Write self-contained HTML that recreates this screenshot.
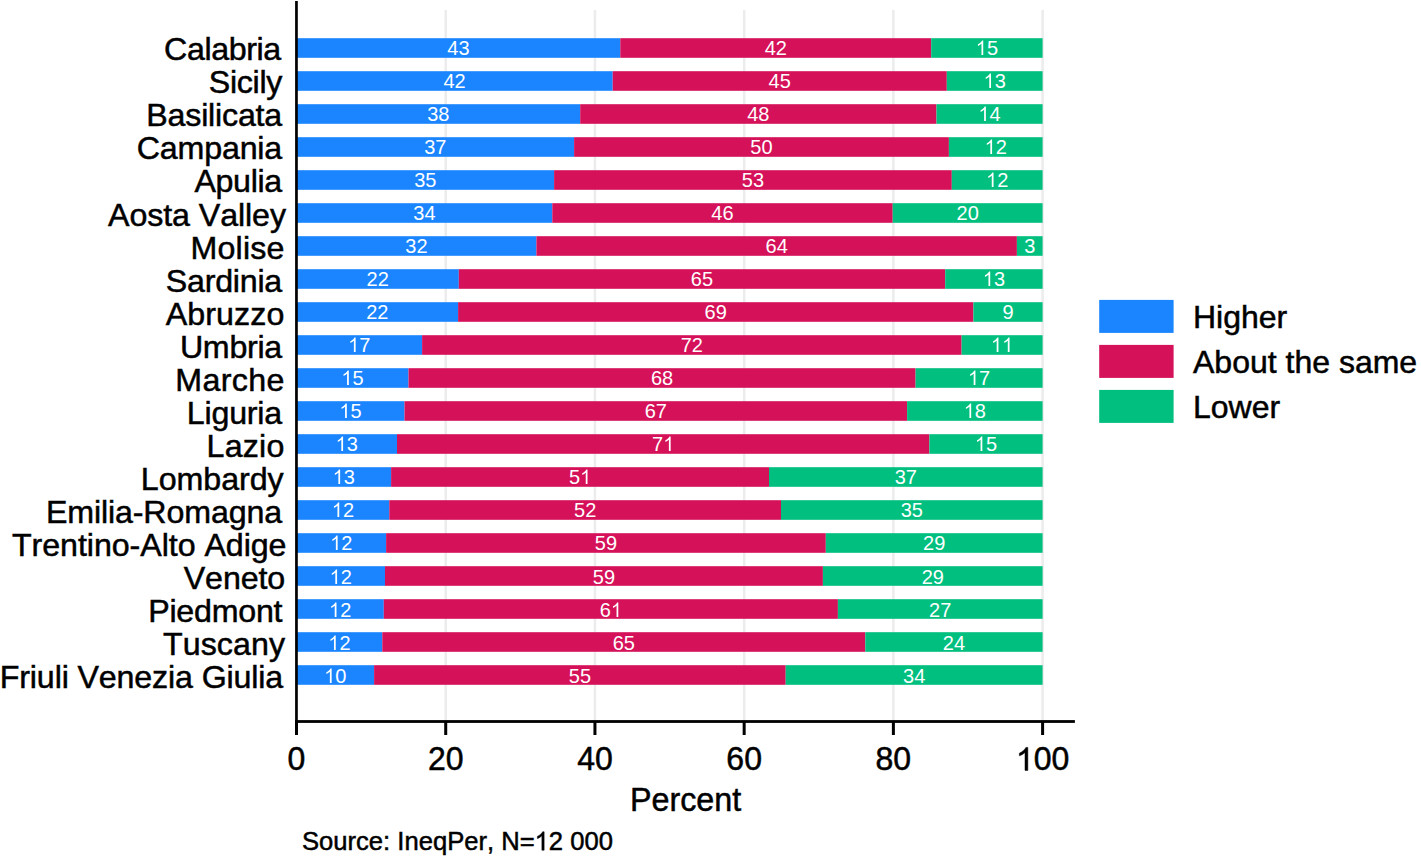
<!DOCTYPE html>
<html><head><meta charset="utf-8"><style>
html,body{margin:0;padding:0;background:#fff;}
body{width:1421px;height:858px;overflow:hidden;}
svg{display:block;}
text{font-family:"Liberation Sans",sans-serif;font-kerning:none;}
.k{fill:#000;stroke:#000;stroke-width:0.5px;}
</style></head><body>
<svg width="1421" height="858" viewBox="0 0 1421 858">
<rect x="0" y="0" width="1421" height="858" fill="#fff"/>

<rect x="444.47" y="10" width="2.5" height="711" fill="#ececec"/>
<rect x="593.69" y="10" width="2.5" height="711" fill="#ececec"/>
<rect x="742.91" y="10" width="2.5" height="711" fill="#ececec"/>
<rect x="892.13" y="10" width="2.5" height="711" fill="#ececec"/>
<rect x="1041.35" y="10" width="2.5" height="711" fill="#ececec"/>
<rect x="296.50" y="38.20" width="323.80" height="19.6" fill="#1a85ff"/>
<rect x="620.30" y="38.20" width="310.90" height="19.6" fill="#d51159"/>
<rect x="931.20" y="38.20" width="111.40" height="19.6" fill="#00bf7f"/>
<text x="447.28" y="55.00" font-size="20" fill="#fff" transform="matrix(1 0 0 1.02 0 -1.100)">4</text>
<text x="458.40" y="55.00" font-size="20" fill="#fff" transform="matrix(1 0 0 1.02 0 -1.100)">3</text>
<text x="764.63" y="55.00" font-size="20" fill="#fff" transform="matrix(1 0 0 1.02 0 -1.100)">4</text>
<text x="775.75" y="55.00" font-size="20" fill="#fff" transform="matrix(1 0 0 1.02 0 -1.100)">2</text>
<path d="M983.23 55.00L981.47 55.00L981.47 43.80Q980.84 44.40 979.83 45.00Q978.82 45.59 977.95 45.91L977.95 44.21Q979.44 43.52 980.53 42.53Q981.63 41.55 982.03 40.62L983.23 40.62Z" fill="#fff"/>
<text x="986.90" y="55.00" font-size="20" fill="#fff" transform="matrix(1 0 0 1.02 0 -1.100)">5</text>
<text x="281.28" y="60.30" font-size="32.2" class="k" text-anchor="end" textLength="117.27" lengthAdjust="spacing">Calabria</text>
<rect x="296.50" y="71.20" width="316.20" height="19.6" fill="#1a85ff"/>
<rect x="612.70" y="71.20" width="334.10" height="19.6" fill="#d51159"/>
<rect x="946.80" y="71.20" width="95.80" height="19.6" fill="#00bf7f"/>
<text x="443.48" y="88.00" font-size="20" fill="#fff" transform="matrix(1 0 0 1.02 0 -1.760)">4</text>
<text x="454.60" y="88.00" font-size="20" fill="#fff" transform="matrix(1 0 0 1.02 0 -1.760)">2</text>
<text x="768.63" y="88.00" font-size="20" fill="#fff" transform="matrix(1 0 0 1.02 0 -1.760)">4</text>
<text x="779.75" y="88.00" font-size="20" fill="#fff" transform="matrix(1 0 0 1.02 0 -1.760)">5</text>
<path d="M991.03 88.00L989.27 88.00L989.27 76.80Q988.64 77.40 987.63 78.00Q986.62 78.59 985.75 78.91L985.75 77.21Q987.24 76.52 988.33 75.53Q989.43 74.55 989.83 73.62L991.03 73.62Z" fill="#fff"/>
<text x="994.70" y="88.00" font-size="20" fill="#fff" transform="matrix(1 0 0 1.02 0 -1.760)">3</text>
<text x="282.41" y="93.34" font-size="32.2" class="k" text-anchor="end" textLength="73.68" lengthAdjust="spacing">Sicily</text>
<rect x="296.50" y="104.20" width="283.70" height="19.6" fill="#1a85ff"/>
<rect x="580.20" y="104.20" width="356.30" height="19.6" fill="#d51159"/>
<rect x="936.50" y="104.20" width="106.10" height="19.6" fill="#00bf7f"/>
<text x="427.23" y="121.00" font-size="20" fill="#fff" transform="matrix(1 0 0 1.02 0 -2.420)">3</text>
<text x="438.35" y="121.00" font-size="20" fill="#fff" transform="matrix(1 0 0 1.02 0 -2.420)">8</text>
<text x="747.23" y="121.00" font-size="20" fill="#fff" transform="matrix(1 0 0 1.02 0 -2.420)">4</text>
<text x="758.35" y="121.00" font-size="20" fill="#fff" transform="matrix(1 0 0 1.02 0 -2.420)">8</text>
<path d="M985.88 121.00L984.12 121.00L984.12 109.80Q983.49 110.40 982.48 111.00Q981.47 111.59 980.60 111.91L980.60 110.21Q982.09 109.52 983.18 108.53Q984.28 107.55 984.68 106.62L985.88 106.62Z" fill="#fff"/>
<text x="989.55" y="121.00" font-size="20" fill="#fff" transform="matrix(1 0 0 1.02 0 -2.420)">4</text>
<text x="282.26" y="126.39" font-size="32.2" class="k" text-anchor="end" textLength="135.98" lengthAdjust="spacing">Basilicata</text>
<rect x="296.50" y="137.20" width="277.60" height="19.6" fill="#1a85ff"/>
<rect x="574.10" y="137.20" width="374.80" height="19.6" fill="#d51159"/>
<rect x="948.90" y="137.20" width="93.70" height="19.6" fill="#00bf7f"/>
<text x="424.18" y="154.00" font-size="20" fill="#fff" transform="matrix(1 0 0 1.02 0 -3.080)">3</text>
<text x="435.30" y="154.00" font-size="20" fill="#fff" transform="matrix(1 0 0 1.02 0 -3.080)">7</text>
<text x="750.38" y="154.00" font-size="20" fill="#fff" transform="matrix(1 0 0 1.02 0 -3.080)">5</text>
<text x="761.50" y="154.00" font-size="20" fill="#fff" transform="matrix(1 0 0 1.02 0 -3.080)">0</text>
<path d="M992.08 154.00L990.32 154.00L990.32 142.80Q989.69 143.40 988.68 144.00Q987.67 144.59 986.80 144.91L986.80 143.21Q988.29 142.52 989.38 141.53Q990.48 140.55 990.88 139.62L992.08 139.62Z" fill="#fff"/>
<text x="995.75" y="154.00" font-size="20" fill="#fff" transform="matrix(1 0 0 1.02 0 -3.080)">2</text>
<text x="282.26" y="159.43" font-size="32.2" class="k" text-anchor="end" textLength="145.53" lengthAdjust="spacing">Campania</text>
<rect x="296.50" y="170.20" width="257.60" height="19.6" fill="#1a85ff"/>
<rect x="554.10" y="170.20" width="397.70" height="19.6" fill="#d51159"/>
<rect x="951.80" y="170.20" width="90.80" height="19.6" fill="#00bf7f"/>
<text x="414.18" y="187.00" font-size="20" fill="#fff" transform="matrix(1 0 0 1.02 0 -3.740)">3</text>
<text x="425.30" y="187.00" font-size="20" fill="#fff" transform="matrix(1 0 0 1.02 0 -3.740)">5</text>
<text x="741.83" y="187.00" font-size="20" fill="#fff" transform="matrix(1 0 0 1.02 0 -3.740)">5</text>
<text x="752.95" y="187.00" font-size="20" fill="#fff" transform="matrix(1 0 0 1.02 0 -3.740)">3</text>
<path d="M993.53 187.00L991.77 187.00L991.77 175.80Q991.14 176.40 990.13 177.00Q989.12 177.59 988.25 177.91L988.25 176.21Q989.74 175.52 990.83 174.53Q991.93 173.55 992.33 172.62L993.53 172.62Z" fill="#fff"/>
<text x="997.20" y="187.00" font-size="20" fill="#fff" transform="matrix(1 0 0 1.02 0 -3.740)">2</text>
<text x="282.26" y="192.48" font-size="32.2" class="k" text-anchor="end" textLength="87.88" lengthAdjust="spacing">Apulia</text>
<rect x="296.50" y="203.20" width="255.80" height="19.6" fill="#1a85ff"/>
<rect x="552.30" y="203.20" width="340.40" height="19.6" fill="#d51159"/>
<rect x="892.70" y="203.20" width="149.90" height="19.6" fill="#00bf7f"/>
<text x="413.28" y="220.00" font-size="20" fill="#fff" transform="matrix(1 0 0 1.02 0 -4.400)">3</text>
<text x="424.40" y="220.00" font-size="20" fill="#fff" transform="matrix(1 0 0 1.02 0 -4.400)">4</text>
<text x="711.38" y="220.00" font-size="20" fill="#fff" transform="matrix(1 0 0 1.02 0 -4.400)">4</text>
<text x="722.50" y="220.00" font-size="20" fill="#fff" transform="matrix(1 0 0 1.02 0 -4.400)">6</text>
<text x="956.53" y="220.00" font-size="20" fill="#fff" transform="matrix(1 0 0 1.02 0 -4.400)">2</text>
<text x="967.65" y="220.00" font-size="20" fill="#fff" transform="matrix(1 0 0 1.02 0 -4.400)">0</text>
<text x="286.01" y="225.52" font-size="32.2" class="k" text-anchor="end" textLength="177.94" lengthAdjust="spacing">Aosta Valley</text>
<rect x="296.50" y="236.20" width="239.90" height="19.6" fill="#1a85ff"/>
<rect x="536.40" y="236.20" width="480.50" height="19.6" fill="#d51159"/>
<rect x="1016.90" y="236.20" width="25.70" height="19.6" fill="#00bf7f"/>
<text x="405.33" y="253.00" font-size="20" fill="#fff" transform="matrix(1 0 0 1.02 0 -5.060)">3</text>
<text x="416.45" y="253.00" font-size="20" fill="#fff" transform="matrix(1 0 0 1.02 0 -5.060)">2</text>
<text x="765.53" y="253.00" font-size="20" fill="#fff" transform="matrix(1 0 0 1.02 0 -5.060)">6</text>
<text x="776.65" y="253.00" font-size="20" fill="#fff" transform="matrix(1 0 0 1.02 0 -5.060)">4</text>
<text x="1024.19" y="253.00" font-size="20" fill="#fff" transform="matrix(1 0 0 1.02 0 -5.060)">3</text>
<text x="284.41" y="258.56" font-size="32.2" class="k" text-anchor="end" textLength="93.85" lengthAdjust="spacing">Molise</text>
<rect x="296.50" y="269.20" width="162.30" height="19.6" fill="#1a85ff"/>
<rect x="458.80" y="269.20" width="486.40" height="19.6" fill="#d51159"/>
<rect x="945.20" y="269.20" width="97.40" height="19.6" fill="#00bf7f"/>
<text x="366.53" y="286.00" font-size="20" fill="#fff" transform="matrix(1 0 0 1.02 0 -5.720)">2</text>
<text x="377.65" y="286.00" font-size="20" fill="#fff" transform="matrix(1 0 0 1.02 0 -5.720)">2</text>
<text x="690.88" y="286.00" font-size="20" fill="#fff" transform="matrix(1 0 0 1.02 0 -5.720)">6</text>
<text x="702.00" y="286.00" font-size="20" fill="#fff" transform="matrix(1 0 0 1.02 0 -5.720)">5</text>
<path d="M990.23 286.00L988.47 286.00L988.47 274.80Q987.84 275.40 986.83 276.00Q985.82 276.59 984.95 276.91L984.95 275.21Q986.44 274.52 987.53 273.53Q988.63 272.55 989.03 271.62L990.23 271.62Z" fill="#fff"/>
<text x="993.90" y="286.00" font-size="20" fill="#fff" transform="matrix(1 0 0 1.02 0 -5.720)">3</text>
<text x="282.19" y="291.61" font-size="32.2" class="k" text-anchor="end" textLength="116.38" lengthAdjust="spacing">Sardinia</text>
<rect x="296.50" y="302.20" width="161.60" height="19.6" fill="#1a85ff"/>
<rect x="458.10" y="302.20" width="515.30" height="19.6" fill="#d51159"/>
<rect x="973.40" y="302.20" width="69.20" height="19.6" fill="#00bf7f"/>
<text x="366.18" y="319.00" font-size="20" fill="#fff" transform="matrix(1 0 0 1.02 0 -6.380)">2</text>
<text x="377.30" y="319.00" font-size="20" fill="#fff" transform="matrix(1 0 0 1.02 0 -6.380)">2</text>
<text x="704.63" y="319.00" font-size="20" fill="#fff" transform="matrix(1 0 0 1.02 0 -6.380)">6</text>
<text x="715.75" y="319.00" font-size="20" fill="#fff" transform="matrix(1 0 0 1.02 0 -6.380)">9</text>
<text x="1002.44" y="319.00" font-size="20" fill="#fff" transform="matrix(1 0 0 1.02 0 -6.380)">9</text>
<text x="284.34" y="324.65" font-size="32.2" class="k" text-anchor="end" textLength="118.54" lengthAdjust="spacing">Abruzzo</text>
<rect x="296.50" y="335.20" width="125.60" height="19.6" fill="#1a85ff"/>
<rect x="422.10" y="335.20" width="539.50" height="19.6" fill="#d51159"/>
<rect x="961.60" y="335.20" width="81.00" height="19.6" fill="#00bf7f"/>
<path d="M355.63 352.00L353.87 352.00L353.87 340.80Q353.24 341.40 352.23 342.00Q351.22 342.59 350.35 342.91L350.35 341.21Q351.84 340.52 352.93 339.53Q354.03 338.55 354.43 337.62L355.63 337.62Z" fill="#fff"/>
<text x="359.30" y="352.00" font-size="20" fill="#fff" transform="matrix(1 0 0 1.02 0 -7.040)">7</text>
<text x="680.73" y="352.00" font-size="20" fill="#fff" transform="matrix(1 0 0 1.02 0 -7.040)">7</text>
<text x="691.85" y="352.00" font-size="20" fill="#fff" transform="matrix(1 0 0 1.02 0 -7.040)">2</text>
<path d="M998.43 352.00L996.67 352.00L996.67 340.80Q996.04 341.40 995.03 342.00Q994.02 342.59 993.15 342.91L993.15 341.21Q994.64 340.52 995.73 339.53Q996.83 338.55 997.23 337.62L998.43 337.62Z" fill="#fff"/>
<path d="M1009.55 352.00L1007.79 352.00L1007.79 340.80Q1007.16 341.40 1006.15 342.00Q1005.15 342.59 1004.28 342.91L1004.28 341.21Q1005.76 340.52 1006.86 339.53Q1007.95 338.55 1008.35 337.62L1009.55 337.62Z" fill="#fff"/>
<text x="282.26" y="357.70" font-size="32.2" class="k" text-anchor="end" textLength="102.38" lengthAdjust="spacing">Umbria</text>
<rect x="296.50" y="368.20" width="112.00" height="19.6" fill="#1a85ff"/>
<rect x="408.50" y="368.20" width="507.10" height="19.6" fill="#d51159"/>
<rect x="915.60" y="368.20" width="127.00" height="19.6" fill="#00bf7f"/>
<path d="M348.83 385.00L347.07 385.00L347.07 373.80Q346.44 374.40 345.43 375.00Q344.42 375.59 343.55 375.91L343.55 374.21Q345.04 373.52 346.13 372.53Q347.23 371.55 347.63 370.62L348.83 370.62Z" fill="#fff"/>
<text x="352.50" y="385.00" font-size="20" fill="#fff" transform="matrix(1 0 0 1.02 0 -7.700)">5</text>
<text x="650.93" y="385.00" font-size="20" fill="#fff" transform="matrix(1 0 0 1.02 0 -7.700)">6</text>
<text x="662.05" y="385.00" font-size="20" fill="#fff" transform="matrix(1 0 0 1.02 0 -7.700)">8</text>
<path d="M975.43 385.00L973.67 385.00L973.67 373.80Q973.04 374.40 972.03 375.00Q971.02 375.59 970.15 375.91L970.15 374.21Q971.64 373.52 972.73 372.53Q973.83 371.55 974.23 370.62L975.43 370.62Z" fill="#fff"/>
<text x="979.10" y="385.00" font-size="20" fill="#fff" transform="matrix(1 0 0 1.02 0 -7.700)">7</text>
<text x="284.41" y="390.74" font-size="32.2" class="k" text-anchor="end" textLength="109.16" lengthAdjust="spacing">Marche</text>
<rect x="296.50" y="401.20" width="108.00" height="19.6" fill="#1a85ff"/>
<rect x="404.50" y="401.20" width="502.60" height="19.6" fill="#d51159"/>
<rect x="907.10" y="401.20" width="135.50" height="19.6" fill="#00bf7f"/>
<path d="M346.83 418.00L345.07 418.00L345.07 406.80Q344.44 407.40 343.43 408.00Q342.42 408.59 341.55 408.91L341.55 407.21Q343.04 406.52 344.13 405.53Q345.23 404.55 345.63 403.62L346.83 403.62Z" fill="#fff"/>
<text x="350.50" y="418.00" font-size="20" fill="#fff" transform="matrix(1 0 0 1.02 0 -8.360)">5</text>
<text x="644.68" y="418.00" font-size="20" fill="#fff" transform="matrix(1 0 0 1.02 0 -8.360)">6</text>
<text x="655.80" y="418.00" font-size="20" fill="#fff" transform="matrix(1 0 0 1.02 0 -8.360)">7</text>
<path d="M971.18 418.00L969.42 418.00L969.42 406.80Q968.79 407.40 967.78 408.00Q966.77 408.59 965.90 408.91L965.90 407.21Q967.39 406.52 968.48 405.53Q969.58 404.55 969.98 403.62L971.18 403.62Z" fill="#fff"/>
<text x="974.85" y="418.00" font-size="20" fill="#fff" transform="matrix(1 0 0 1.02 0 -8.360)">8</text>
<text x="282.19" y="423.78" font-size="32.2" class="k" text-anchor="end" textLength="95.39" lengthAdjust="spacing">Liguria</text>
<rect x="296.50" y="434.20" width="100.50" height="19.6" fill="#1a85ff"/>
<rect x="397.00" y="434.20" width="532.40" height="19.6" fill="#d51159"/>
<rect x="929.40" y="434.20" width="113.20" height="19.6" fill="#00bf7f"/>
<path d="M343.08 451.00L341.32 451.00L341.32 439.80Q340.69 440.40 339.68 441.00Q338.67 441.59 337.80 441.91L337.80 440.21Q339.29 439.52 340.38 438.53Q341.48 437.55 341.88 436.62L343.08 436.62Z" fill="#fff"/>
<text x="346.75" y="451.00" font-size="20" fill="#fff" transform="matrix(1 0 0 1.02 0 -9.020)">3</text>
<text x="652.08" y="451.00" font-size="20" fill="#fff" transform="matrix(1 0 0 1.02 0 -9.020)">7</text>
<path d="M670.65 451.00L668.89 451.00L668.89 439.80Q668.26 440.40 667.25 441.00Q666.25 441.59 665.38 441.91L665.38 440.21Q666.86 439.52 667.96 438.53Q669.05 437.55 669.45 436.62L670.65 436.62Z" fill="#fff"/>
<path d="M982.33 451.00L980.57 451.00L980.57 439.80Q979.94 440.40 978.93 441.00Q977.92 441.59 977.05 441.91L977.05 440.21Q978.54 439.52 979.63 438.53Q980.73 437.55 981.13 436.62L982.33 436.62Z" fill="#fff"/>
<text x="986.00" y="451.00" font-size="20" fill="#fff" transform="matrix(1 0 0 1.02 0 -9.020)">5</text>
<text x="284.34" y="456.83" font-size="32.2" class="k" text-anchor="end" textLength="77.73" lengthAdjust="spacing">Lazio</text>
<rect x="296.50" y="467.20" width="94.60" height="19.6" fill="#1a85ff"/>
<rect x="391.10" y="467.20" width="377.90" height="19.6" fill="#d51159"/>
<rect x="769.00" y="467.20" width="273.60" height="19.6" fill="#00bf7f"/>
<path d="M340.13 484.00L338.37 484.00L338.37 472.80Q337.74 473.40 336.73 474.00Q335.72 474.59 334.85 474.91L334.85 473.21Q336.34 472.52 337.43 471.53Q338.53 470.55 338.93 469.62L340.13 469.62Z" fill="#fff"/>
<text x="343.80" y="484.00" font-size="20" fill="#fff" transform="matrix(1 0 0 1.02 0 -9.680)">3</text>
<text x="568.93" y="484.00" font-size="20" fill="#fff" transform="matrix(1 0 0 1.02 0 -9.680)">5</text>
<path d="M587.50 484.00L585.74 484.00L585.74 472.80Q585.11 473.40 584.10 474.00Q583.10 474.59 582.23 474.91L582.23 473.21Q583.71 472.52 584.81 471.53Q585.90 470.55 586.30 469.62L587.50 469.62Z" fill="#fff"/>
<text x="894.68" y="484.00" font-size="20" fill="#fff" transform="matrix(1 0 0 1.02 0 -9.680)">3</text>
<text x="905.80" y="484.00" font-size="20" fill="#fff" transform="matrix(1 0 0 1.02 0 -9.680)">7</text>
<text x="283.58" y="489.87" font-size="32.2" class="k" text-anchor="end" textLength="142.73" lengthAdjust="spacing">Lombardy</text>
<rect x="296.50" y="500.20" width="92.80" height="19.6" fill="#1a85ff"/>
<rect x="389.30" y="500.20" width="391.70" height="19.6" fill="#d51159"/>
<rect x="781.00" y="500.20" width="261.60" height="19.6" fill="#00bf7f"/>
<path d="M339.23 517.00L337.47 517.00L337.47 505.80Q336.84 506.40 335.83 507.00Q334.82 507.59 333.95 507.91L333.95 506.21Q335.44 505.52 336.53 504.53Q337.63 503.55 338.03 502.62L339.23 502.62Z" fill="#fff"/>
<text x="342.90" y="517.00" font-size="20" fill="#fff" transform="matrix(1 0 0 1.02 0 -10.340)">2</text>
<text x="574.03" y="517.00" font-size="20" fill="#fff" transform="matrix(1 0 0 1.02 0 -10.340)">5</text>
<text x="585.15" y="517.00" font-size="20" fill="#fff" transform="matrix(1 0 0 1.02 0 -10.340)">2</text>
<text x="900.68" y="517.00" font-size="20" fill="#fff" transform="matrix(1 0 0 1.02 0 -10.340)">3</text>
<text x="911.80" y="517.00" font-size="20" fill="#fff" transform="matrix(1 0 0 1.02 0 -10.340)">5</text>
<text x="282.19" y="522.92" font-size="32.2" class="k" text-anchor="end" textLength="236.31" lengthAdjust="spacing">Emilia-Romagna</text>
<rect x="296.50" y="533.20" width="89.60" height="19.6" fill="#1a85ff"/>
<rect x="386.10" y="533.20" width="439.70" height="19.6" fill="#d51159"/>
<rect x="825.80" y="533.20" width="216.80" height="19.6" fill="#00bf7f"/>
<path d="M337.63 550.00L335.87 550.00L335.87 538.80Q335.24 539.40 334.23 540.00Q333.22 540.59 332.35 540.91L332.35 539.21Q333.84 538.52 334.93 537.53Q336.03 536.55 336.43 535.62L337.63 535.62Z" fill="#fff"/>
<text x="341.30" y="550.00" font-size="20" fill="#fff" transform="matrix(1 0 0 1.02 0 -11.000)">2</text>
<text x="594.83" y="550.00" font-size="20" fill="#fff" transform="matrix(1 0 0 1.02 0 -11.000)">5</text>
<text x="605.95" y="550.00" font-size="20" fill="#fff" transform="matrix(1 0 0 1.02 0 -11.000)">9</text>
<text x="923.08" y="550.00" font-size="20" fill="#fff" transform="matrix(1 0 0 1.02 0 -11.000)">2</text>
<text x="934.20" y="550.00" font-size="20" fill="#fff" transform="matrix(1 0 0 1.02 0 -11.000)">9</text>
<text x="286.51" y="555.96" font-size="32.2" class="k" text-anchor="end" textLength="274.55" lengthAdjust="spacing">Trentino-Alto Adige</text>
<rect x="296.50" y="566.20" width="88.50" height="19.6" fill="#1a85ff"/>
<rect x="385.00" y="566.20" width="437.90" height="19.6" fill="#d51159"/>
<rect x="822.90" y="566.20" width="219.70" height="19.6" fill="#00bf7f"/>
<path d="M337.08 584.00L335.32 584.00L335.32 572.80Q334.69 573.40 333.68 574.00Q332.67 574.59 331.80 574.91L331.80 573.21Q333.29 572.52 334.38 571.53Q335.48 570.55 335.88 569.62L337.08 569.62Z" fill="#fff"/>
<text x="340.75" y="584.00" font-size="20" fill="#fff" transform="matrix(1 0 0 1.02 0 -11.680)">2</text>
<text x="592.83" y="584.00" font-size="20" fill="#fff" transform="matrix(1 0 0 1.02 0 -11.680)">5</text>
<text x="603.95" y="584.00" font-size="20" fill="#fff" transform="matrix(1 0 0 1.02 0 -11.680)">9</text>
<text x="921.63" y="584.00" font-size="20" fill="#fff" transform="matrix(1 0 0 1.02 0 -11.680)">2</text>
<text x="932.75" y="584.00" font-size="20" fill="#fff" transform="matrix(1 0 0 1.02 0 -11.680)">9</text>
<text x="285.27" y="589.00" font-size="32.2" class="k" text-anchor="end" textLength="101.56" lengthAdjust="spacing">Veneto</text>
<rect x="296.50" y="599.20" width="87.30" height="19.6" fill="#1a85ff"/>
<rect x="383.80" y="599.20" width="454.10" height="19.6" fill="#d51159"/>
<rect x="837.90" y="599.20" width="204.70" height="19.6" fill="#00bf7f"/>
<path d="M336.48 617.00L334.72 617.00L334.72 605.80Q334.09 606.40 333.08 607.00Q332.07 607.59 331.20 607.91L331.20 606.21Q332.69 605.52 333.78 604.53Q334.88 603.55 335.28 602.62L336.48 602.62Z" fill="#fff"/>
<text x="340.15" y="617.00" font-size="20" fill="#fff" transform="matrix(1 0 0 1.02 0 -12.340)">2</text>
<text x="599.73" y="617.00" font-size="20" fill="#fff" transform="matrix(1 0 0 1.02 0 -12.340)">6</text>
<path d="M618.30 617.00L616.54 617.00L616.54 605.80Q615.91 606.40 614.90 607.00Q613.90 607.59 613.03 607.91L613.03 606.21Q614.51 605.52 615.61 604.53Q616.70 603.55 617.10 602.62L618.30 602.62Z" fill="#fff"/>
<text x="929.13" y="617.00" font-size="20" fill="#fff" transform="matrix(1 0 0 1.02 0 -12.340)">2</text>
<text x="940.25" y="617.00" font-size="20" fill="#fff" transform="matrix(1 0 0 1.02 0 -12.340)">7</text>
<text x="282.53" y="622.05" font-size="32.2" class="k" text-anchor="end" textLength="134.34" lengthAdjust="spacing">Piedmont</text>
<rect x="296.50" y="632.20" width="85.80" height="19.6" fill="#1a85ff"/>
<rect x="382.30" y="632.20" width="483.00" height="19.6" fill="#d51159"/>
<rect x="865.30" y="632.20" width="177.30" height="19.6" fill="#00bf7f"/>
<path d="M335.73 650.00L333.97 650.00L333.97 638.80Q333.34 639.40 332.33 640.00Q331.32 640.59 330.45 640.91L330.45 639.21Q331.94 638.52 333.03 637.53Q334.13 636.55 334.53 635.62L335.73 635.62Z" fill="#fff"/>
<text x="339.40" y="650.00" font-size="20" fill="#fff" transform="matrix(1 0 0 1.02 0 -13.000)">2</text>
<text x="612.68" y="650.00" font-size="20" fill="#fff" transform="matrix(1 0 0 1.02 0 -13.000)">6</text>
<text x="623.80" y="650.00" font-size="20" fill="#fff" transform="matrix(1 0 0 1.02 0 -13.000)">5</text>
<text x="942.83" y="650.00" font-size="20" fill="#fff" transform="matrix(1 0 0 1.02 0 -13.000)">2</text>
<text x="953.95" y="650.00" font-size="20" fill="#fff" transform="matrix(1 0 0 1.02 0 -13.000)">4</text>
<text x="284.97" y="655.09" font-size="32.2" class="k" text-anchor="end" textLength="121.91" lengthAdjust="spacing">Tuscany</text>
<rect x="296.50" y="665.20" width="77.60" height="19.6" fill="#1a85ff"/>
<rect x="374.10" y="665.20" width="411.60" height="19.6" fill="#d51159"/>
<rect x="785.70" y="665.20" width="256.90" height="19.6" fill="#00bf7f"/>
<path d="M331.63 683.00L329.87 683.00L329.87 671.80Q329.24 672.40 328.23 673.00Q327.22 673.59 326.35 673.91L326.35 672.21Q327.84 671.52 328.93 670.53Q330.03 669.55 330.43 668.62L331.63 668.62Z" fill="#fff"/>
<text x="335.30" y="683.00" font-size="20" fill="#fff" transform="matrix(1 0 0 1.02 0 -13.660)">0</text>
<text x="568.78" y="683.00" font-size="20" fill="#fff" transform="matrix(1 0 0 1.02 0 -13.660)">5</text>
<text x="579.90" y="683.00" font-size="20" fill="#fff" transform="matrix(1 0 0 1.02 0 -13.660)">5</text>
<text x="903.03" y="683.00" font-size="20" fill="#fff" transform="matrix(1 0 0 1.02 0 -13.660)">3</text>
<text x="914.15" y="683.00" font-size="20" fill="#fff" transform="matrix(1 0 0 1.02 0 -13.660)">4</text>
<text x="283.28" y="688.14" font-size="32.2" class="k" text-anchor="end" textLength="283.54" lengthAdjust="spacing">Friuli Venezia Giulia</text>
<rect x="295.1" y="1" width="2.7" height="722" fill="#000"/>
<rect x="295.1" y="720.1" width="779.8" height="2.8" fill="#000"/>
<rect x="295.00" y="721" width="3" height="14" fill="#000"/>
<text x="287.60" y="770.40" font-size="32" fill="#000" stroke="#000" stroke-width="0.5" transform="matrix(1 0 0 1.06 0 -46.224)">0</text>
<rect x="444.22" y="721" width="3" height="14" fill="#000"/>
<text x="427.92" y="770.40" font-size="32" fill="#000" stroke="#000" stroke-width="0.5" transform="matrix(1 0 0 1.06 0 -46.224)">2</text>
<text x="445.72" y="770.40" font-size="32" fill="#000" stroke="#000" stroke-width="0.5" transform="matrix(1 0 0 1.06 0 -46.224)">0</text>
<rect x="593.44" y="721" width="3" height="14" fill="#000"/>
<text x="577.14" y="770.40" font-size="32" fill="#000" stroke="#000" stroke-width="0.5" transform="matrix(1 0 0 1.06 0 -46.224)">4</text>
<text x="594.94" y="770.40" font-size="32" fill="#000" stroke="#000" stroke-width="0.5" transform="matrix(1 0 0 1.06 0 -46.224)">0</text>
<rect x="742.66" y="721" width="3" height="14" fill="#000"/>
<text x="726.36" y="770.40" font-size="32" fill="#000" stroke="#000" stroke-width="0.5" transform="matrix(1 0 0 1.06 0 -46.224)">6</text>
<text x="744.16" y="770.40" font-size="32" fill="#000" stroke="#000" stroke-width="0.5" transform="matrix(1 0 0 1.06 0 -46.224)">0</text>
<rect x="891.88" y="721" width="3" height="14" fill="#000"/>
<text x="875.58" y="770.40" font-size="32" fill="#000" stroke="#000" stroke-width="0.5" transform="matrix(1 0 0 1.06 0 -46.224)">8</text>
<text x="893.38" y="770.40" font-size="32" fill="#000" stroke="#000" stroke-width="0.5" transform="matrix(1 0 0 1.06 0 -46.224)">0</text>
<rect x="1041.10" y="721" width="3" height="14" fill="#000"/>
<path d="M1027.83 770.40L1025.01 770.40L1025.01 752.48Q1024.00 753.45 1022.39 754.39Q1020.78 755.34 1019.39 755.85L1019.39 753.13Q1021.76 752.02 1023.51 750.45Q1025.26 748.88 1025.90 747.40L1027.83 747.40Z" fill="#000" stroke="#000" stroke-width="0.5"/>
<text x="1033.70" y="770.40" font-size="32" fill="#000" stroke="#000" stroke-width="0.5" transform="matrix(1 0 0 1.06 0 -46.224)">0</text>
<text x="1051.50" y="770.40" font-size="32" fill="#000" stroke="#000" stroke-width="0.5" transform="matrix(1 0 0 1.06 0 -46.224)">0</text>
<text x="685.6" y="811.2" font-size="32.3" class="k" text-anchor="middle">Percent</text>
<text id="src" x="302" y="850.2" font-size="25.6" class="k">Source: IneqPer, N= 2 000</text>
<path d="M544.13 850.20L541.88 850.20L541.88 835.86Q541.07 836.64 539.78 837.39Q538.49 838.15 537.38 838.56L537.38 836.39Q539.28 835.50 540.68 834.24Q542.08 832.99 542.59 831.80L544.13 831.80Z" fill="#000" stroke="#000" stroke-width="0.5"/>
<rect x="1099.2" y="299.90" width="74.4" height="33" fill="#1a85ff"/>
<text x="1193" y="328.20" font-size="32" class="k">Higher</text>
<rect x="1099.2" y="344.90" width="74.4" height="33" fill="#d51159"/>
<text x="1193" y="373.20" font-size="32" class="k">About the same</text>
<rect x="1099.2" y="389.90" width="74.4" height="33" fill="#00bf7f"/>
<text x="1193" y="418.20" font-size="32" class="k">Lower</text>
</svg>
</body></html>
